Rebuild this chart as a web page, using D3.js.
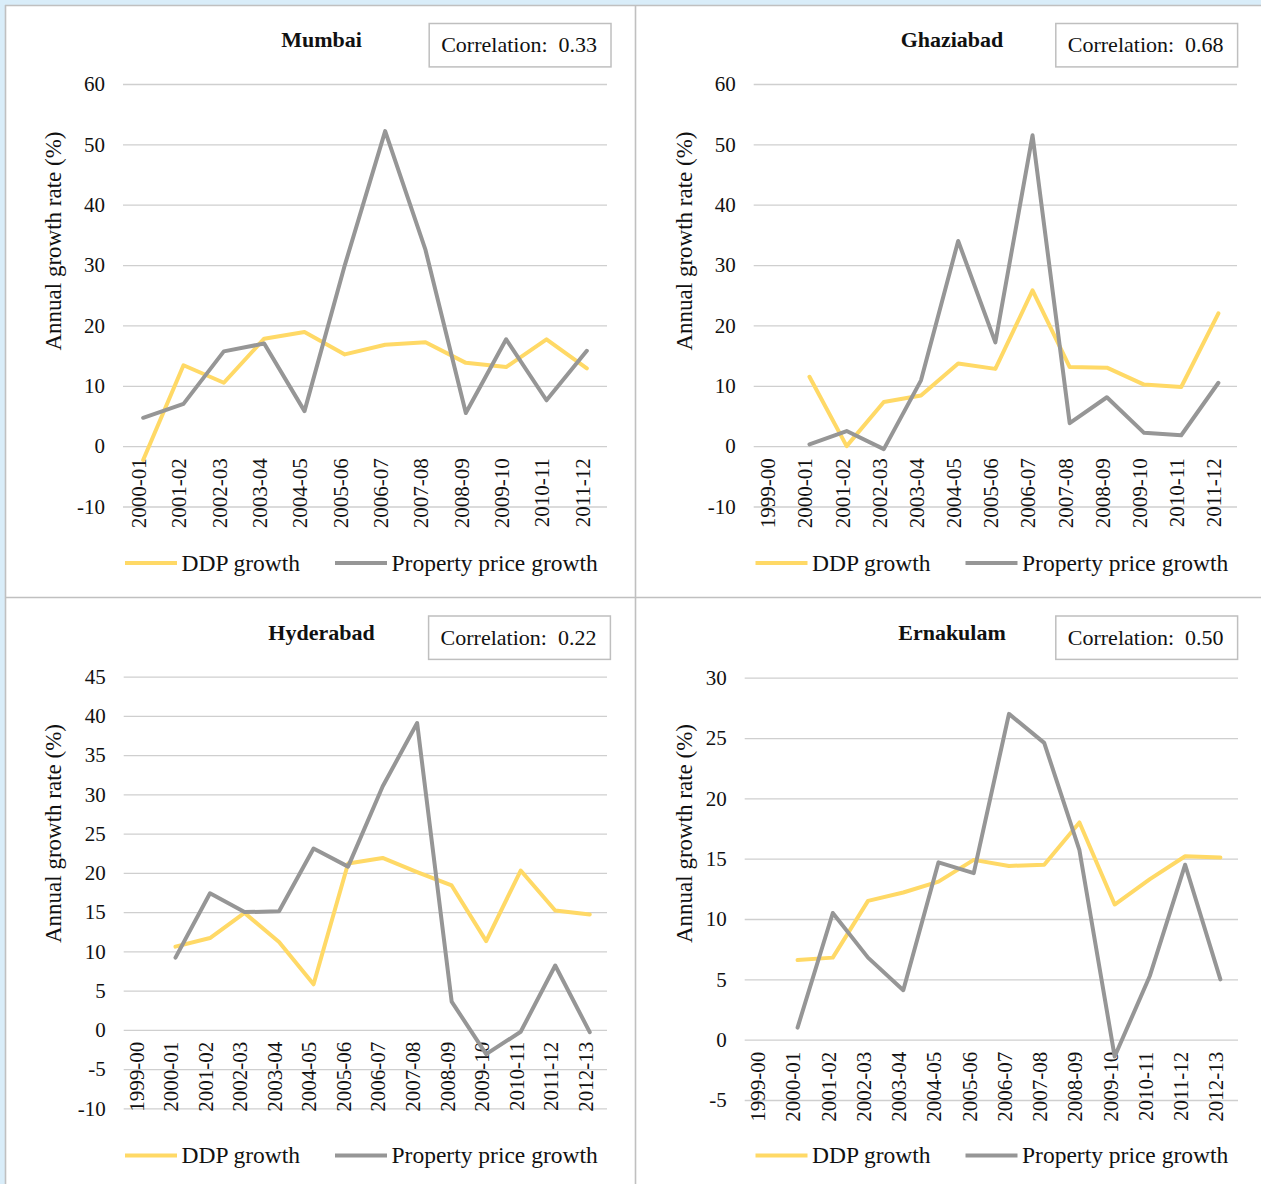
<!DOCTYPE html>
<html>
<head>
<meta charset="utf-8">
<script src="https://cdn.jsdelivr.net/npm/d3@7"></script>
<style>
  html, body { margin: 0; padding: 0; background: #ffffff; }
  svg { display: block; }
  text { font-family: "Liberation Serif", "Times New Roman", serif; fill: #111; }
</style>
</head>
<body>
<svg id="chart" width="1261" height="1184"></svg>
<script>
// ---------------- DATA ----------------
const seriesNames = ["DDP growth", "Property price growth"];

const mumbaiYears = ["2000-01","2001-02","2002-03","2003-04","2004-05","2005-06","2006-07","2007-08","2008-09","2009-10","2010-11","2011-12"];
const mumbaiDDP = [-2.3, 13.4, 10.5, 17.8, 18.9, 15.2, 16.8, 17.2, 13.8, 13.1, 17.7, 12.9];
const mumbaiProperty = [4.7, 7.0, 15.7, 17.0, 5.8, 30.0, 52.2, 32.5, 5.5, 17.7, 7.6, 15.8];
const mumbaiTicks = [-10, 0, 10, 20, 30, 40, 50, 60];
const mumbaiCorr = "0.33";

const ghaziabadYears = ["1999-00","2000-01","2001-02","2002-03","2003-04","2004-05","2005-06","2006-07","2007-08","2008-09","2009-10","2010-11","2011-12"];
const ghaziabadDDP = [null, 11.5, 0.0, 7.3, 8.4, 13.7, 12.8, 25.8, 13.1, 13.0, 10.2, 9.8, 22.0];
const ghaziabadProperty = [null, 0.3, 2.5, -0.5, 10.9, 34.0, 17.2, 51.5, 3.8, 8.1, 2.2, 1.8, 10.5];
const ghaziabadTicks = [-10, 0, 10, 20, 30, 40, 50, 60];
const ghaziabadCorr = "0.68";

const hyderabadYears = ["1999-00","2000-01","2001-02","2002-03","2003-04","2004-05","2005-06","2006-07","2007-08","2008-09","2009-10","2010-11","2011-12","2012-13"];
const hyderabadDDP = [null, 10.6, 11.7, 14.9, 11.2, 5.8, 21.2, 21.9, 20.1, 18.4, 11.3, 20.3, 15.2, 14.7];
const hyderabadProperty = [null, 9.2, 17.4, 15.0, 15.1, 23.1, 20.8, 31.0, 39.1, 3.6, -3.1, -0.25, 8.2, -0.3];
const hyderabadTicks = [-10, -5, 0, 5, 10, 15, 20, 25, 30, 35, 40, 45];
const hyderabadCorr = "0.22";

const ernakulamYears = ["1999-00","2000-01","2001-02","2002-03","2003-04","2004-05","2005-06","2006-07","2007-08","2008-09","2009-10","2010-11","2011-12","2012-13"];
const ernakulamDDP = [null, 6.6, 6.8, 11.5, 12.2, 13.1, 14.9, 14.4, 14.5, 18.0, 11.2, 13.3, 15.2, 15.1];
const ernakulamProperty = [null, 1.0, 10.5, 6.8, 4.1, 14.7, 13.8, 27.0, 24.6, 15.7, -1.4, 5.3, 14.5, 5.0];
const ernakulamTicks = [-5, 0, 5, 10, 15, 20, 25, 30];
const ernakulamCorr = "0.50";

// ---------------- LAYOUT / STYLE ----------------
const colors = { ddp: "#FFD966", prop: "#969696", grid: "#cfcfcf", border: "#c0c0c0", frame: "#d9edf9", box: "#bfbfbf" };

const panels = [
  { title: "Mumbai", corr: mumbaiCorr, cats: mumbaiYears, ddp: mumbaiDDP, prop: mumbaiProperty, ticks: mumbaiTicks,
    ox: 5, oy: 5, x0: 123, x1: 607, yTop: 84, yBot: 506.5, boxRight: 611 },
  { title: "Ghaziabad", corr: ghaziabadCorr, cats: ghaziabadYears, ddp: ghaziabadDDP, prop: ghaziabadProperty, ticks: ghaziabadTicks,
    ox: 635.5, oy: 5, x0: 753.7, x1: 1237, yTop: 84, yBot: 506.5, boxRight: 1237.6 },
  { title: "Hyderabad", corr: hyderabadCorr, cats: hyderabadYears, ddp: hyderabadDDP, prop: hyderabadProperty, ticks: hyderabadTicks,
    ox: 5, oy: 597.5, x0: 123.7, x1: 607, yTop: 676.7, yBot: 1108.3, boxRight: 610.4 },
  { title: "Ernakulam", corr: ernakulamCorr, cats: ernakulamYears, ddp: ernakulamDDP, prop: ernakulamProperty, ticks: ernakulamTicks,
    ox: 635.5, oy: 597.5, x0: 744.7, x1: 1238, yTop: 677.7, yBot: 1100, boxRight: 1237.6 }
];

const svg = d3.select("#chart");
const W = 1261, H = 1184;

// frame
svg.append("rect").attr("x", 0).attr("y", 0).attr("width", W).attr("height", H).attr("fill", "#ffffff");
svg.append("rect").attr("x", 0).attr("y", 0).attr("width", W).attr("height", 5).attr("fill", colors.frame);
svg.append("rect").attr("x", 0).attr("y", 0).attr("width", 5).attr("height", H).attr("fill", colors.frame);
const borderLines = [[5, 5.5, W, 5.5], [5.5, 5, 5.5, H], [635.5, 5, 635.5, H], [5, 597.5, W, 597.5]];
borderLines.forEach(l => svg.append("line").attr("x1", l[0]).attr("y1", l[1]).attr("x2", l[2]).attr("y2", l[3])
  .attr("stroke", colors.border).attr("stroke-width", 1.6));

panels.forEach(p => {
  const g = svg.append("g");
  const x = d3.scaleBand().domain(p.cats).range([p.x0, p.x1]).padding(0);
  const y = d3.scaleLinear().domain([p.ticks[0], p.ticks[p.ticks.length - 1]]).range([p.yBot, p.yTop]);
  const cx = d => x(d) + x.bandwidth() / 2;

  // gridlines + y tick labels
  const yAxis = d3.axisLeft(y).tickValues(p.ticks).tickSize(-(p.x1 - p.x0)).tickPadding(18).tickFormat(d => String(d));
  const ga = g.append("g").attr("transform", `translate(${p.x0},0)`).call(yAxis);
  ga.select(".domain").remove();
  ga.selectAll(".tick line").attr("stroke", colors.grid).attr("stroke-width", 1.3);
  ga.selectAll(".tick text").attr("font-size", 21).attr("fill", "#111")
    .style("font-family", '"Liberation Serif", serif');

  // x category labels (rotated) at zero line
  const zeroY = y(0);
  g.append("g").selectAll("text").data(p.cats).join("text")
    .attr("transform", d => `translate(${cx(d) - 4.5},${zeroY + 12}) rotate(-90)`)
    .attr("text-anchor", "end")
    .attr("dy", "0.35em")
    .attr("font-size", 21)
    .text(d => d);

  // lines
  const line = d3.line().defined(d => d.v !== null).x(d => cx(d.c)).y(d => y(d.v));
  const ddpData = p.cats.map((c, i) => ({ c, v: p.ddp[i] }));
  const propData = p.cats.map((c, i) => ({ c, v: p.prop[i] }));
  g.append("path").datum(ddpData).attr("d", line).attr("fill", "none")
    .attr("stroke", colors.ddp).attr("stroke-width", 4).attr("stroke-linejoin", "round").attr("stroke-linecap", "round");
  g.append("path").datum(propData).attr("d", line).attr("fill", "none")
    .attr("stroke", colors.prop).attr("stroke-width", 4).attr("stroke-linejoin", "round").attr("stroke-linecap", "round");

  // title
  g.append("text").attr("x", p.ox + 316.5).attr("y", p.oy + 42).attr("text-anchor", "middle")
    .attr("font-size", 22).attr("font-weight", "bold").text(p.title);

  // correlation box
  const bx = p.boxRight - 181.8, by = p.oy + 18.5;
  g.append("rect").attr("x", bx).attr("y", by).attr("width", 181.8).attr("height", 43.4)
    .attr("fill", "#fff").attr("stroke", colors.box).attr("stroke-width", 1.5);
  g.append("text").attr("x", bx + 12).attr("y", by + 28.5).attr("font-size", 22)
    .text("Correlation:\u00a0 " + p.corr);

  // y-axis title
  const yc = p.oy + 236;
  g.append("text").attr("transform", `translate(${p.ox + 56},${yc}) rotate(-90)`)
    .attr("text-anchor", "middle").attr("font-size", 23).text("Annual growth rate (%)");

  // legend
  const ly = p.oy + 558;
  const legendItems = [
    { name: seriesNames[0], color: colors.ddp, x: p.ox + 120 },
    { name: seriesNames[1], color: colors.prop, x: p.ox + 330 }
  ];
  const lg = g.append("g");
  legendItems.forEach(it => {
    lg.append("line").attr("x1", it.x).attr("x2", it.x + 52).attr("y1", ly).attr("y2", ly)
      .attr("stroke", it.color).attr("stroke-width", 4);
    lg.append("text").attr("x", it.x + 56.5).attr("y", ly + 7.5).attr("font-size", 23.5).text(it.name);
  });
});
</script>
</body>
</html>
